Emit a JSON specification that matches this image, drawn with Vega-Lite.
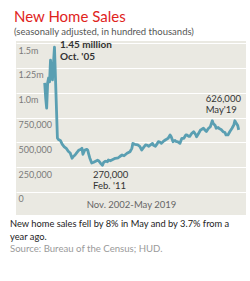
{
  "$schema": "https://vega.github.io/schema/vega-lite/v6.json",
  "background": "white",
  "autosize": {"type": "pad"},
  "padding": {"left": 10, "top": 10, "right": 6, "bottom": 5},
  "config": {
    "font": "Lato",
    "view": {"fill": "#eae9e2", "stroke": null},
    "concat": {"spacing": 0}
  },
  "title": {
    "text": ["New home sales fell by 8% in May and by 3.7% from a", "year ago."],
    "subtitle": "Source: Bureau of the Census; HUD.",
    "orient": "bottom",
    "anchor": "start",
    "dx": -4,
    "offset": 5,
    "font": "Lato",
    "fontSize": 9.3,
    "fontWeight": "normal",
    "color": "#222222",
    "lineHeight": 13,
    "subtitleFont": "Lato",
    "subtitleFontSize": 9.6,
    "subtitleColor": "#9a9a9a",
    "subtitlePadding": 2
  },
  "datasets": {
    "sales": [
      {"date": "2002-11", "value": 1100000},
      {"date": "2002-12", "value": 950000},
      {"date": "2003-01", "value": 845000},
      {"date": "2003-02", "value": 1100000},
      {"date": "2003-03", "value": 1150000},
      {"date": "2003-04", "value": 1110000},
      {"date": "2003-05", "value": 1330000},
      {"date": "2003-06", "value": 1200000},
      {"date": "2003-07", "value": 1130000},
      {"date": "2003-08", "value": 1300000},
      {"date": "2003-09", "value": 1460000},
      {"date": "2003-12", "value": 545000},
      {"date": "2004-01", "value": 530000},
      {"date": "2004-03", "value": 520000},
      {"date": "2004-05", "value": 480000},
      {"date": "2004-07", "value": 455000},
      {"date": "2004-09", "value": 440000},
      {"date": "2004-11", "value": 410000},
      {"date": "2005-01", "value": 393000},
      {"date": "2005-03", "value": 340000},
      {"date": "2005-04", "value": 355000},
      {"date": "2005-06", "value": 373000},
      {"date": "2005-08", "value": 400000},
      {"date": "2005-10", "value": 423000},
      {"date": "2005-12", "value": 430000},
      {"date": "2006-01", "value": 440000},
      {"date": "2006-02", "value": 380000},
      {"date": "2006-04", "value": 423000},
      {"date": "2006-06", "value": 430000},
      {"date": "2006-07", "value": 420000},
      {"date": "2006-08", "value": 380000},
      {"date": "2006-09", "value": 343000},
      {"date": "2006-11", "value": 292000},
      {"date": "2007-01", "value": 300000},
      {"date": "2007-03", "value": 310000},
      {"date": "2007-05", "value": 320000},
      {"date": "2007-06", "value": 315000},
      {"date": "2007-08", "value": 290000},
      {"date": "2007-10", "value": 270000},
      {"date": "2007-11", "value": 295000},
      {"date": "2008-01", "value": 310000},
      {"date": "2008-03", "value": 305000},
      {"date": "2008-04", "value": 322000},
      {"date": "2008-06", "value": 315000},
      {"date": "2008-08", "value": 325000},
      {"date": "2008-11", "value": 340000},
      {"date": "2009-02", "value": 345000},
      {"date": "2009-04", "value": 360000},
      {"date": "2009-06", "value": 373000},
      {"date": "2009-08", "value": 365000},
      {"date": "2009-11", "value": 390000},
      {"date": "2010-02", "value": 406000},
      {"date": "2010-04", "value": 440000},
      {"date": "2010-05", "value": 490000},
      {"date": "2010-07", "value": 480000},
      {"date": "2010-10", "value": 474000},
      {"date": "2010-12", "value": 460000},
      {"date": "2011-02", "value": 423000},
      {"date": "2011-04", "value": 450000},
      {"date": "2011-06", "value": 474000},
      {"date": "2011-08", "value": 470000},
      {"date": "2011-09", "value": 460000},
      {"date": "2011-11", "value": 475000},
      {"date": "2012-01", "value": 490000},
      {"date": "2012-02", "value": 470000},
      {"date": "2012-04", "value": 460000},
      {"date": "2012-06", "value": 490000},
      {"date": "2012-07", "value": 507000},
      {"date": "2012-09", "value": 500000},
      {"date": "2012-10", "value": 490000},
      {"date": "2012-12", "value": 510000},
      {"date": "2013-02", "value": 524000},
      {"date": "2013-03", "value": 530000},
      {"date": "2013-05", "value": 541000},
      {"date": "2013-07", "value": 575000},
      {"date": "2013-08", "value": 560000},
      {"date": "2013-10", "value": 507000},
      {"date": "2013-12", "value": 520000},
      {"date": "2014-01", "value": 510000},
      {"date": "2014-03", "value": 505000},
      {"date": "2014-05", "value": 490000},
      {"date": "2014-07", "value": 541000},
      {"date": "2014-09", "value": 541000},
      {"date": "2014-11", "value": 575000},
      {"date": "2014-12", "value": 575000},
      {"date": "2015-02", "value": 560000},
      {"date": "2015-03", "value": 560000},
      {"date": "2015-05", "value": 590000},
      {"date": "2015-07", "value": 608000},
      {"date": "2015-09", "value": 580000},
      {"date": "2015-10", "value": 557000},
      {"date": "2015-12", "value": 590000},
      {"date": "2016-02", "value": 625000},
      {"date": "2016-03", "value": 630000},
      {"date": "2016-05", "value": 642000},
      {"date": "2016-07", "value": 620000},
      {"date": "2016-08", "value": 610000},
      {"date": "2016-10", "value": 640000},
      {"date": "2016-12", "value": 658000},
      {"date": "2017-02", "value": 718000},
      {"date": "2017-03", "value": 692000},
      {"date": "2017-05", "value": 670000},
      {"date": "2017-06", "value": 642000},
      {"date": "2017-08", "value": 650000},
      {"date": "2017-09", "value": 640000},
      {"date": "2017-11", "value": 630000},
      {"date": "2018-01", "value": 608000},
      {"date": "2018-03", "value": 600000},
      {"date": "2018-04", "value": 575000},
      {"date": "2018-06", "value": 575000},
      {"date": "2018-08", "value": 610000},
      {"date": "2018-10", "value": 640000},
      {"date": "2018-12", "value": 675000},
      {"date": "2019-01", "value": 718000},
      {"date": "2019-02", "value": 700000},
      {"date": "2019-04", "value": 670000},
      {"date": "2019-05", "value": 626000}
    ],
    "peak": [
      {"date": "2004-02-19", "value": 1482000, "label": "1.45 million"},
      {"date": "2004-02-19", "value": 1361000, "label": "Oct. '05"}
    ],
    "notes": [
      {"date": "2006-12-10", "value": 171000, "label": "270,000"},
      {"date": "2006-12-10", "value": 60000, "label": "Feb. '11"},
      {"date": "2016-07-10", "value": 937000, "label": "626,000"},
      {"date": "2016-07-10", "value": 827000, "label": "May'19"}
    ]
  },
  "vconcat": [
    {
      "width": 230,
      "height": 174,
      "title": {
        "text": "New Home Sales",
        "subtitle": "(seasonally adjusted, in hundred thousands)",
        "anchor": "start",
        "dx": -2,
        "offset": 3,
        "font": "Lato",
        "fontSize": 15,
        "fontWeight": "normal",
        "color": "#e0231c",
        "subtitleFont": "Lato",
        "subtitleFontSize": 9.5,
        "subtitleColor": "#555555",
        "subtitlePadding": 2
      },
      "encoding": {
        "x": {
          "field": "date",
          "type": "temporal",
          "scale": {"domain": ["2000-05-24", "2019-12-14"]},
          "axis": {
            "grid": false,
            "labels": false,
            "ticks": false,
            "domain": false,
            "title": "Nov. 2002-May 2019",
            "titleFont": "Lato",
            "titleFontSize": 9.5,
            "titleFontWeight": "normal",
            "titleColor": "#666666",
            "titlePadding": -16
          }
        },
        "y": {
          "field": "value",
          "type": "quantitative",
          "scale": {"domain": [-232000, 1522000], "nice": false, "zero": false},
          "axis": {
            "values": [0, 250000, 500000, 750000, 1000000, 1250000, 1500000],
            "labelExpr": "datum.value == 1500000 ? '1.5m' : datum.value == 1250000 ? '1.25m' : datum.value == 1000000 ? '1.0m' : format(datum.value, ',')",
            "title": null,
            "domain": false,
            "ticks": false,
            "tickSize": 0,
            "labelPadding": -2,
            "labelAlign": "left",
            "labelBaseline": "top",
            "labelOffset": 3,
            "labelFont": "Lato",
            "labelFontSize": 9,
            "labelColor": "#7a7a7a",
            "labelFlush": false,
            "labelOverlap": false,
            "labelBound": false,
            "grid": true,
            "gridColor": "#ffffff",
            "gridWidth": 1,
            "gridOpacity": 1
          }
        }
      },
      "layer": [
        {
          "data": {"name": "sales"},
          "mark": {"type": "line", "color": "#5a9fb2", "strokeWidth": 2.8, "strokeJoin": "round"}
        },
        {
          "data": {"name": "peak"},
          "mark": {"type": "text", "align": "left", "baseline": "middle", "font": "Lato", "fontSize": 10, "fontWeight": "bold", "color": "#333333"},
          "encoding": {"text": {"field": "label"}}
        },
        {
          "data": {"name": "notes"},
          "mark": {"type": "text", "align": "left", "baseline": "middle", "font": "Lato", "fontSize": 9.5, "color": "#333333"},
          "encoding": {"text": {"field": "label"}}
        }
      ]
    }
  ]
}
